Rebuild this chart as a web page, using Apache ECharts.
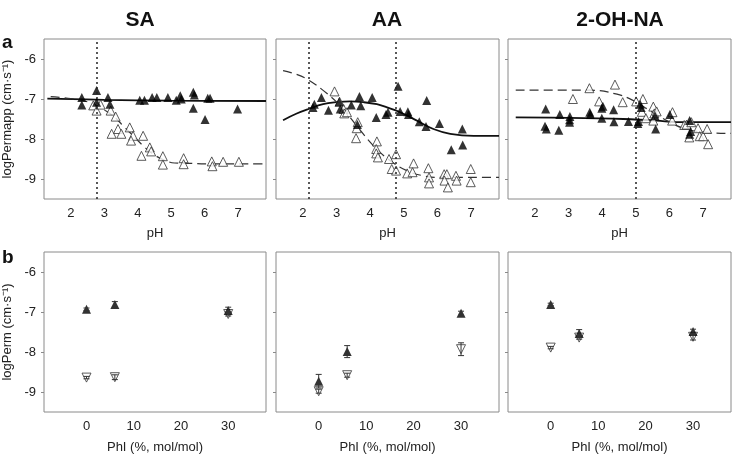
<!DOCTYPE html>
<html>
<head>
<meta charset="utf-8">
<script src="https://cdn.jsdelivr.net/npm/echarts@6/dist/echarts.min.js"></script>
<style>
  html, body { margin: 0; padding: 0; background: #fff; }
  #chart { width: 736px; height: 456px; }
</style>
</head>
<body>
<div id="chart"></div>
<script>
// panel titles
var panelNames = ['SA', 'AA', '2-OH-NA'];
var phTicks = [2, 3, 4, 5, 6, 7];
var phiTicks = [0, 10, 20, 30];
var permTicks = [-9, -8, -7, -6];

// row a: pH profiles  [pH, logPerm]
var saFilled = [[2.33,-6.96],[2.33,-7.15],[2.77,-6.79],[2.77,-7.08],[3.11,-6.96],[3.17,-7.13],
  [4.06,-7.03],[4.2,-7.03],[4.43,-6.96],[4.57,-6.96],[4.9,-6.96],[5.15,-7.03],[5.27,-6.92],
  [5.3,-7.0],[5.66,-6.83],[5.69,-6.9],[5.66,-7.23],[6.01,-7.51],[6.09,-6.98],[6.16,-6.98],[6.98,-7.25]];
var saOpen = [[2.67,-7.16],[2.77,-7.29],[2.89,-7.14],[3.19,-7.29],[3.34,-7.44],[3.22,-7.87],
  [3.41,-7.75],[3.51,-7.87],[3.76,-7.71],[3.86,-7.92],[3.8,-8.04],[4.16,-7.92],[4.11,-8.42],
  [4.36,-8.21],[4.4,-8.31],[4.75,-8.43],[4.75,-8.64],[5.37,-8.48],[5.37,-8.63],[6.21,-8.56],
  [6.23,-8.68],[6.55,-8.57],[7.02,-8.57]];
var saSolid = [[1.3,-6.99],[3,-7.02],[5,-7.04],[7.83,-7.05]];
var saDashed = [[1.4,-6.94],[2.0,-6.99],[2.5,-7.07],[2.8,-7.17],[3.0,-7.27],[3.3,-7.45],[3.6,-7.7],
  [3.9,-7.95],[4.2,-8.2],[4.5,-8.4],[4.8,-8.53],[5.1,-8.6],[5.6,-8.61],[6.0,-8.62],[7.83,-8.62]];
var saPka = [2.78];

var aaFilled = [[2.3,-7.21],[2.34,-7.13],[2.55,-6.96],[2.76,-7.28],[3.08,-7.07],[3.11,-7.25],
  [3.44,-7.15],[3.68,-6.94],[3.72,-7.17],[3.62,-7.64],[4.06,-6.96],[4.18,-7.46],[4.47,-7.39],
  [4.53,-7.33],[4.83,-6.68],[4.89,-7.31],[5.12,-7.32],[5.14,-7.39],[5.46,-7.57],[5.66,-7.69],
  [5.68,-7.04],[6.06,-7.61],[6.41,-8.27],[6.74,-7.75],[6.75,-8.15]];
var aaOpen = [[2.94,-6.81],[3.09,-7.07],[3.21,-7.25],[3.23,-7.36],[3.31,-7.33],[3.6,-7.73],
  [3.63,-7.58],[3.58,-7.98],[4.2,-8.06],[4.18,-8.25],[4.18,-8.36],[4.23,-8.46],[4.56,-8.5],
  [4.77,-8.38],[4.64,-8.75],[4.77,-8.79],[5.29,-8.61],[5.1,-8.86],[5.26,-8.83],[5.73,-8.73],
  [5.75,-8.96],[5.75,-9.11],[6.2,-8.88],[6.28,-8.88],[6.21,-9.04],[6.31,-9.21],[6.55,-8.92],
  [6.57,-9.04],[6.99,-8.75],[6.99,-9.08]];
var aaSolid = [[1.41,-7.53],[1.8,-7.37],[2.17,-7.25],[2.6,-7.13],[3.01,-7.08],[3.4,-7.06],
  [3.8,-7.08],[4.2,-7.13],[4.5,-7.21],[4.89,-7.33],[5.39,-7.54],[5.88,-7.75],[6.38,-7.87],
  [7.07,-7.92],[7.83,-7.92]];
var aaDashed = [[1.41,-6.29],[1.8,-6.38],[2.12,-6.5],[2.61,-6.79],[3.11,-7.17],[3.6,-7.67],
  [4.1,-8.17],[4.59,-8.54],[5.09,-8.79],[5.58,-8.92],[6.08,-8.96],[7.83,-8.96]];
var aaPka = [2.16, 4.77];

var ohFilled = [[2.32,-7.25],[2.3,-7.68],[2.34,-7.75],[2.71,-7.78],[2.74,-7.39],[3.04,-7.44],
  [3.03,-7.52],[3.03,-7.58],[3.63,-7.33],[3.65,-7.39],[3.99,-7.23],[3.99,-7.48],[4.02,-7.18],
  [4.34,-7.27],[4.35,-7.57],[4.78,-7.56],[5.06,-7.61],[5.08,-7.56],[5.13,-7.13],[5.16,-7.21],
  [5.57,-7.42],[5.59,-7.75],[6.01,-7.39],[6.6,-7.88],[6.6,-7.54],[6.63,-7.81]];
var ohOpen = [[3.13,-7.0],[3.62,-6.73],[3.91,-7.06],[4.38,-6.64],[4.61,-7.08],[5.01,-7.06],
  [5.21,-7.0],[5.18,-7.32],[5.3,-7.48],[5.52,-7.19],[5.55,-7.36],[5.62,-7.31],[5.52,-7.54],
  [6.09,-7.33],[6.08,-7.54],[6.44,-7.65],[6.51,-7.64],[6.65,-7.58],[6.59,-7.96],[6.85,-7.73],
  [6.9,-7.93],[7.0,-7.93],[7.12,-7.75],[7.15,-8.13]];
var ohSolid = [[1.43,-7.46],[3.0,-7.47],[4.63,-7.5],[5.62,-7.54],[6.21,-7.58],[7.83,-7.58]];
var ohDashed = [[1.43,-6.78],[3.65,-6.78],[4.44,-6.88],[4.93,-7.04],[5.42,-7.29],[5.92,-7.54],
  [6.41,-7.73],[7.0,-7.83],[7.83,-7.86]];
var ohPka = [5.0];

// row b: PhI content  [PhI %, logPerm, error]
var saPhiFilled = [[0,-6.93,0.03],[6,-6.81,0.07],[30,-6.96,0.08]];
var saPhiOpen = [[0,-8.64,0.03],[6,-8.63,0.06],[30,-7.05,0.05]];
var aaPhiFilled = [[0,-8.73,0.17],[6,-7.99,0.15],[30,-7.03,0.05]];
var aaPhiOpen = [[0,-8.98,0.05],[6,-8.58,0.05],[30,-7.93,0.16]];
var ohPhiFilled = [[0,-6.81,0.03],[6,-7.54,0.1],[30,-7.49,0.06]];
var ohPhiOpen = [[0,-7.89,0.03],[6,-7.64,0.04],[30,-7.62,0.08]];

var FONT = 'Liberation Sans, Arial, sans-serif';
var lefts = [43, 276, 508];
var panelW = 223, panelH = 160;
var tops = [39, 252];

var grids = [], xAxes = [], yAxes = [], series = [];

function addPanel(row, col) {
  var idx = grids.length;
  grids.push({
    left: lefts[col], top: tops[row], width: panelW, height: panelH,
    show: true, borderColor: '#8a8a8a', borderWidth: 1, backgroundColor: 'transparent'
  });
  var isPh = row === 0;
  xAxes.push({
    type: 'value', gridIndex: idx,
    min: isPh ? 1.2 : -9, max: isPh ? 7.83 : 38,
    name: isPh ? 'pH' : 'PhI (%, mol/mol)',
    nameLocation: 'middle', nameGap: isPh ? 28 : 29,
    nameTextStyle: { fontFamily: FONT, fontSize: 13, color: '#222' },
    axisLine: { show: false, onZero: false },
    axisTick: { show: false },
    splitLine: { show: false },
    axisLabel: { customValues: isPh ? phTicks : phiTicks, margin: 8,
      fontFamily: FONT, fontSize: 13, color: '#222' }
  });
  yAxes.push({
    type: 'value', gridIndex: idx, min: -9.5, max: -5.5,
    name: col === 0 ? (isPh ? 'logPermapp (cm·s⁻¹)' : 'logPerm (cm·s⁻¹)') : '',
    nameLocation: 'middle', nameGap: 30,
    nameTextStyle: { fontFamily: FONT, fontSize: 13, color: '#222' },
    axisLine: { show: false, onZero: false },
    axisTick: { show: true, customValues: permTicks, length: 3,
      lineStyle: { color: '#8a8a8a' } },
    splitLine: { show: false },
    axisLabel: { show: col === 0, customValues: permTicks, margin: 8,
      fontFamily: FONT, fontSize: 13, color: '#222',
      formatter: function (v) { return String(v); } }
  });
  return idx;
}

function scatter(idx, data, filled, inverted) {
  series.push({
    type: 'scatter', xAxisIndex: idx, yAxisIndex: idx, data: data,
    symbol: 'triangle', symbolSize: 9, symbolRotate: inverted ? 180 : 0,
    itemStyle: filled ? { color: '#000' } : { color: '#fff', borderColor: '#333', borderWidth: 1 },
    z: filled ? 4 : 3, silent: true
  });
}

function curve(idx, data, dashed, pka) {
  var s = {
    type: 'line', xAxisIndex: idx, yAxisIndex: idx, data: data, smooth: 0.4,
    showSymbol: false, silent: true,
    lineStyle: dashed ? { color: '#333', width: 1.2, type: [9, 5] } : { color: '#111', width: 1.8 },
    z: 2
  };
  if (pka) {
    s.markLine = {
      silent: true, symbol: 'none', label: { show: false },
      lineStyle: { color: '#222', type: [2, 3], width: 1.5 },
      data: pka.map(function (v) { return { xAxis: v }; })
    };
  }
  series.push(s);
}

function errorBars(idx, data) {
  series.push({
    type: 'custom', xAxisIndex: idx, yAxisIndex: idx, data: data, silent: true, z: 5,
    renderItem: function (params, api) {
      var x = api.value(0), y = api.value(1), e = api.value(2);
      var hi = api.coord([x, y + e]), lo = api.coord([x, y - e]);
      var st = { stroke: '#333', lineWidth: 1 };
      return { type: 'group', children: [
        { type: 'line', shape: { x1: hi[0], y1: hi[1], x2: lo[0], y2: lo[1] }, style: st },
        { type: 'line', shape: { x1: hi[0] - 3, y1: hi[1], x2: hi[0] + 3, y2: hi[1] }, style: st },
        { type: 'line', shape: { x1: lo[0] - 3, y1: lo[1], x2: lo[0] + 3, y2: lo[1] }, style: st }
      ]};
    }
  });
}

// top row
var rowA = [
  [saFilled, saOpen, saSolid, saDashed, saPka],
  [aaFilled, aaOpen, aaSolid, aaDashed, aaPka],
  [ohFilled, ohOpen, ohSolid, ohDashed, ohPka]
];
rowA.forEach(function (p, col) {
  var idx = addPanel(0, col);
  curve(idx, p[2], false, p[4]);
  curve(idx, p[3], true);
  scatter(idx, p[1], false);
  scatter(idx, p[0], true);
});

// bottom row
var rowB = [
  [saPhiFilled, saPhiOpen], [aaPhiFilled, aaPhiOpen], [ohPhiFilled, ohPhiOpen]
];
rowB.forEach(function (p, col) {
  var idx = addPanel(1, col);
  errorBars(idx, p[1]);
  errorBars(idx, p[0]);
  scatter(idx, p[1], false, true);
  scatter(idx, p[0], true);
});

var titleX = [140, 387, 620];
var graphics = panelNames.map(function (t, i) {
  return { type: 'text', x: titleX[i], y: 20,
    style: { text: t, fontFamily: FONT, fontSize: 21, fontWeight: 'bold', fill: '#111',
      align: 'center', verticalAlign: 'middle' } };
});
graphics.push({ type: 'text', x: 2, y: 43,
  style: { text: 'a', fontFamily: FONT, fontSize: 19, fontWeight: 'bold', fill: '#111', verticalAlign: 'middle' } });
graphics.push({ type: 'text', x: 2, y: 258,
  style: { text: 'b', fontFamily: FONT, fontSize: 19, fontWeight: 'bold', fill: '#111', verticalAlign: 'middle' } });

var chart = echarts.init(document.getElementById('chart'), null, { renderer: 'canvas' });
chart.setOption({
  animation: false,
  backgroundColor: '#fff',
  grid: grids,
  xAxis: xAxes,
  yAxis: yAxes,
  series: series,
  graphic: graphics
});
</script>
</body>
</html>
